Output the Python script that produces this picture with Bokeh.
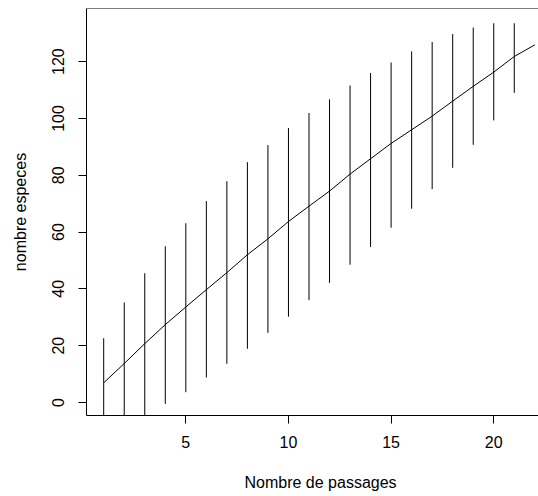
from bokeh.plotting import figure
from bokeh.models import Range1d, Span, FixedTicker, ColumnDataSource, Title
from bokeh.embed import file_html
from bokeh.resources import INLINE

passages = [1, 2, 3, 4, 5, 6, 7, 8, 9, 10, 11, 12, 13, 14, 15, 16, 17, 18, 19, 20, 21, 22]
richness = [6.9, 13.7, 20.7, 27.4, 33.6, 39.7, 45.7, 52.0, 57.6, 63.7, 69.1,
            74.4, 80.4, 85.8, 91.2, 96.0, 100.8, 106.1, 111.3, 116.3, 121.8, 125.9]
upper = [22.6, 35.2, 45.5, 55.0, 63.1, 70.9, 77.9, 84.6, 90.6, 96.6, 101.9,
         106.7, 111.6, 116.0, 119.7, 123.6, 126.9, 129.7, 132.0, 133.5, 133.5, 125.9]
lower = [-8.8, -7.8, -5.0, -0.5, 3.6, 8.8, 13.6, 18.9, 24.5, 30.2, 36.0,
         42.1, 48.5, 54.7, 61.5, 68.2, 75.1, 82.6, 90.7, 99.3, 109.0, 125.9]
x_ticks = [5, 10, 15, 20]
y_ticks = [0, 20, 40, 60, 80, 100, 120]
x_title = "Nombre de passages"
y_title = "nombre especes"

FONT = "Liberation Sans"
Y0, Y1 = -4.6, 138.7

p = figure(width=538, height=496, output_backend="svg", toolbar_location=None,
           x_range=Range1d(0.162, 22.18), y_range=Range1d(Y0, Y1),
           min_border_left=86, min_border_right=0, min_border_top=8,
           min_border_bottom=81)
p.outline_line_color = None
p.background_fill_color = "white"
p.border_fill_color = "white"
p.xgrid.visible = False
p.ygrid.visible = False

src = ColumnDataSource(dict(x=passages, r=richness, lo=lower, hi=upper))
p.segment(x0="x", y0="lo", x1="x", y1="hi", source=src, line_color="black", line_width=1)
p.line(x="x", y="r", source=src, line_color="black", line_width=1)

# top border of the box (right side lies outside the cropped picture)
p.add_layout(Span(location=Y1, dimension="width", line_color="black", line_width=1))

for ax in (p.xaxis[0], p.yaxis[0]):
    ax.axis_line_color = "black"
    ax.axis_line_width = 1
    ax.major_tick_in = 0
    ax.major_tick_out = 8
    ax.major_tick_line_color = "black"
    ax.minor_tick_line_color = None
    ax.major_label_text_font = FONT
    ax.major_label_text_font_size = "16px"
    ax.major_label_text_color = "black"
    ax.axis_label_text_font = FONT
    ax.axis_label_text_font_size = "16px"
    ax.axis_label_text_font_style = "normal"
    ax.axis_label_text_color = "black"

p.xaxis[0].ticker = FixedTicker(ticks=x_ticks)
p.yaxis[0].ticker = FixedTicker(ticks=y_ticks)
p.yaxis[0].axis_label = y_title
p.xaxis[0].major_label_standoff = 12
p.yaxis[0].major_label_orientation = "vertical"
p.yaxis[0].major_label_standoff = 14
p.yaxis[0].axis_label_standoff = 21

# x title centred on the full (partly cropped) plot region, as R does
p.add_layout(Title(text=x_title, align="left", offset=158, standoff=0,
                   vertical_align="top", padding=(0, 0, 23, 0),
                   text_font=FONT, text_font_size="16px",
                   text_font_style="normal", text_color="black"), "below")

open("out.html", "w").write(file_html(p, INLINE))
